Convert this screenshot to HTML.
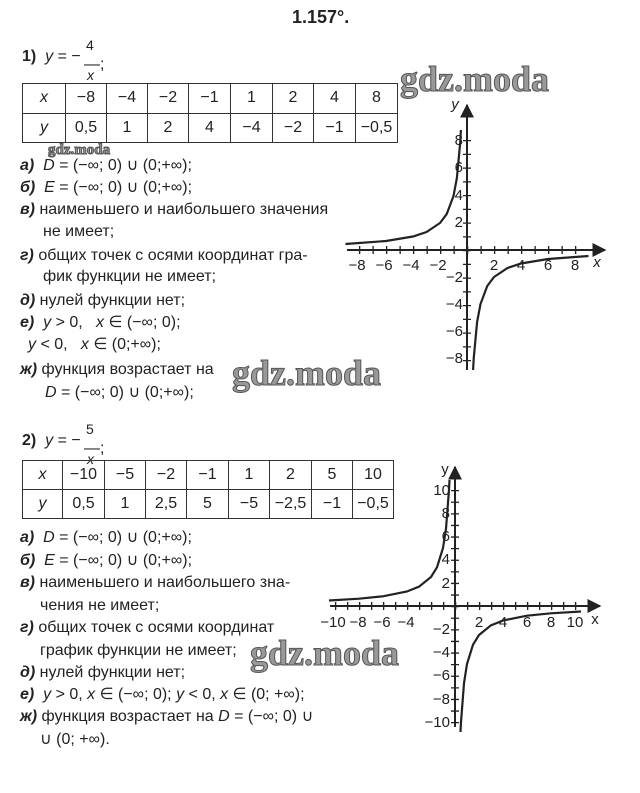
<!DOCTYPE html>
<html><head><meta charset="utf-8"><style>
body{margin:0;background:#fff;}
#p{position:relative;width:640px;height:793px;overflow:hidden;background:#fff;font-family:"Liberation Sans",sans-serif;color:#222;}
.t{position:absolute;font-size:16px;white-space:nowrap;line-height:18px;}
.b{font-weight:bold;font-style:italic;}
i{font-style:italic;}
table{position:absolute;border-collapse:collapse;font-size:16px;table-layout:fixed;}
td{border:1.5px solid #333;text-align:center;padding:0;height:28px;overflow:hidden;white-space:nowrap;}
.wm{position:absolute;font-family:"Liberation Serif",serif;font-weight:bold;color:#999;white-space:nowrap;-webkit-text-stroke:1px #555;}
svg{position:absolute;left:0;top:0;}
svg text{font-family:"Liberation Sans",sans-serif;font-size:15px;fill:#222;}
</style></head><body><div id="p">
<div class="t" style="left:292px;top:8px;font-weight:bold;font-size:18px;">1.157°.</div>

<div class="t" style="left:22px;top:48px;"><b>1)</b>&nbsp; <i>y</i> = −</div>
<div class="t" style="left:86px;top:36px;font-size:14px;">4</div>
<div class="t" style="left:84px;top:56px;">—;</div>
<div class="t" style="left:87px;top:66px;font-size:14px;"><i>x</i></div>

<table style="left:22px;top:83px;width:375px;height:60px;">
<colgroup><col style="width:43px"><col style="width:41px"><col style="width:41px"><col style="width:41px"><col style="width:42px"><col style="width:42px"><col style="width:41px"><col style="width:42px"><col style="width:42px"></colgroup>
<tr><td><i>x</i></td><td>−8</td><td>−4</td><td>−2</td><td>−1</td><td>1</td><td>2</td><td>4</td><td>8</td></tr>
<tr><td><i>y</i></td><td>0,5</td><td>1</td><td>2</td><td>4</td><td>−4</td><td>−2</td><td>−1</td><td>−0,5</td></tr>
</table>

<div class="t" style="left:20px;top:157px;"><span class="b">а)</span>&nbsp; <i>D</i> = (−∞; 0) ∪ (0;+∞);</div>
<div class="t" style="left:20px;top:179px;"><span class="b">б)</span>&nbsp; <i>E</i> = (−∞; 0) ∪ (0;+∞);</div>
<div class="t" style="left:20px;top:201px;"><span class="b">в)</span>&nbsp;наименьшего и наибольшего значения</div>
<div class="t" style="left:43px;top:223px;">не имеет;</div>
<div class="t" style="left:20px;top:247px;"><span class="b">г)</span>&nbsp;общих точек с осями координат гра-</div>
<div class="t" style="left:43px;top:268px;">фик функции не имеет;</div>
<div class="t" style="left:20px;top:292px;"><span class="b">д)</span>&nbsp;нулей функции нет;</div>
<div class="t" style="left:20px;top:314px;"><span class="b">е)</span>&nbsp; <i>y</i> &gt; 0, &nbsp; <i>x</i> ∈ (−∞; 0);</div>
<div class="t" style="left:28px;top:336px;"><i>y</i> &lt; 0, &nbsp; <i>x</i> ∈ (0;+∞);</div>
<div class="t" style="left:20px;top:361px;"><span class="b">ж)</span>&nbsp;функция возрастает на</div>
<div class="t" style="left:45px;top:384px;"><i>D</i> = (−∞; 0) ∪ (0;+∞);</div>

<div class="t" style="left:22px;top:432px;"><b>2)</b>&nbsp; <i>y</i> = −</div>
<div class="t" style="left:86px;top:420px;font-size:14px;">5</div>
<div class="t" style="left:84px;top:440px;">—;</div>
<div class="t" style="left:87px;top:450px;font-size:14px;"><i>x</i></div>

<table style="left:22px;top:460px;width:371px;height:57px;">
<colgroup><col style="width:40px"><col style="width:42px"><col style="width:41px"><col style="width:41px"><col style="width:42px"><col style="width:41px"><col style="width:42px"><col style="width:41px"><col style="width:41px"></colgroup>
<tr><td><i>x</i></td><td>−10</td><td>−5</td><td>−2</td><td>−1</td><td>1</td><td>2</td><td>5</td><td>10</td></tr>
<tr><td><i>y</i></td><td>0,5</td><td>1</td><td>2,5</td><td>5</td><td>−5</td><td>−2,5</td><td>−1</td><td>−0,5</td></tr>
</table>

<div class="t" style="left:20px;top:529px;"><span class="b">а)</span>&nbsp; <i>D</i> = (−∞; 0) ∪ (0;+∞);</div>
<div class="t" style="left:20px;top:552px;"><span class="b">б)</span>&nbsp; <i>E</i> = (−∞; 0) ∪ (0;+∞);</div>
<div class="t" style="left:20px;top:574px;"><span class="b">в)</span>&nbsp;наименьшего и наибольшего зна-</div>
<div class="t" style="left:40px;top:597px;">чения не имеет;</div>
<div class="t" style="left:20px;top:619px;"><span class="b">г)</span>&nbsp;общих точек с осями координат</div>
<div class="t" style="left:40px;top:642px;">график функции не имеет;</div>
<div class="t" style="left:20px;top:664px;"><span class="b">д)</span>&nbsp;нулей функции нет;</div>
<div class="t" style="left:20px;top:686px;"><span class="b">е)</span>&nbsp; <i>y</i> &gt; 0, <i>x</i> ∈ (−∞; 0); <i>y</i> &lt; 0, <i>x</i> ∈ (0; +∞);</div>
<div class="t" style="left:20px;top:708px;"><span class="b">ж)</span>&nbsp;функция возрастает на <i>D</i> = (−∞; 0) ∪</div>
<div class="t" style="left:40px;top:731px;">∪ (0; +∞).</div>

<svg width="640" height="793" viewBox="0 0 640 793">
<defs><marker id="ar" viewBox="0 0 10 10" refX="9" refY="5" markerWidth="7" markerHeight="7" orient="auto"><path d="M0,0 L10,5 L0,10 z" fill="#222"/></marker></defs>
<g stroke="#222" fill="none">
<line x1="347" y1="250" x2="605" y2="250" stroke-width="2" marker-end="url(#ar)"/>
<line x1="467" y1="370" x2="467" y2="105" stroke-width="2" marker-end="url(#ar)"/>
<line x1="359" y1="250" x2="577" y2="250" stroke-width="8" stroke-dasharray="1.3 12.2"/>
<line x1="467" y1="140" x2="467" y2="362" stroke-width="8" stroke-dasharray="1.3 12.45"/>
<polyline stroke-width="2.2" points="345.5,244 386,241 413,236.5 426.5,232 440,223 446.75,214 453.5,196 456.9,178 460.25,142 460.9,130"/>
<polyline stroke-width="2.2" points="588.5,256 548,259 521,263.5 507.5,268 494,277 487.25,286 480.5,304 477.1,322 473.75,358 473.1,370"/>
<line x1="330" y1="606" x2="600" y2="606" stroke-width="2" marker-end="url(#ar)"/>
<line x1="455" y1="727" x2="455" y2="467" stroke-width="2" marker-end="url(#ar)"/>
<line x1="335" y1="606" x2="580" y2="606" stroke-width="8" stroke-dasharray="1.3 10.7"/>
<line x1="455" y1="490" x2="455" y2="724" stroke-width="8" stroke-dasharray="1.3 10.3"/>
<polyline stroke-width="2.2" points="329,600.5 359,598.7 383,596.3 407,591.5 419,586.7 431,577 437,567.3 443,548 446,528.7 449,490 449.5,480"/>
<polyline stroke-width="2.2" points="581,611.5 551,613.3 527,615.7 503,620.5 491,625.3 479,635 473,644.7 467,664 464,683.3 461,722 460.5,732"/>
</g>
<g text-anchor="middle">
<text x="357" y="270">−8</text><text x="384" y="270">−6</text><text x="411" y="270">−4</text><text x="438" y="270">−2</text>
<text x="494" y="270">2</text><text x="521" y="270">4</text><text x="548" y="270">6</text><text x="575" y="270">8</text>
<text x="597" y="267" font-style="italic">x</text>
<text x="455" y="109" font-style="italic">y</text>
<text x="333" y="627">−10</text><text x="358" y="627">−8</text><text x="382" y="627">−6</text><text x="406" y="627">−4</text>
<text x="479" y="627">2</text><text x="503" y="627">4</text><text x="527" y="627">6</text><text x="551" y="627">8</text><text x="575" y="627">10</text>
<text x="595" y="624">x</text><text x="445" y="474">y</text>
</g>
<g text-anchor="end">
<text x="463" y="145">8</text><text x="463" y="172">6</text><text x="463" y="200">4</text><text x="463" y="227">2</text>
<text x="463" y="282">−2</text><text x="463" y="309">−4</text><text x="463" y="336">−6</text><text x="463" y="363">−8</text>
<text x="450" y="495">10</text><text x="450" y="518">8</text><text x="450" y="541">6</text><text x="450" y="564">4</text><text x="450" y="588">2</text>
<text x="450" y="634">−2</text><text x="450" y="657">−4</text><text x="450" y="680">−6</text><text x="450" y="704">−8</text><text x="450" y="727">−10</text>
</g>
</svg>

<div class="wm" style="left:400px;top:58px;font-size:36px;">gdz.moda</div>
<div class="wm" style="left:48px;top:142px;font-size:15px;">gdz.moda</div>
<div class="wm" style="left:232px;top:352px;font-size:36px;">gdz.moda</div>
<div class="wm" style="left:250px;top:632px;font-size:36px;">gdz.moda</div>
</div></body></html>
